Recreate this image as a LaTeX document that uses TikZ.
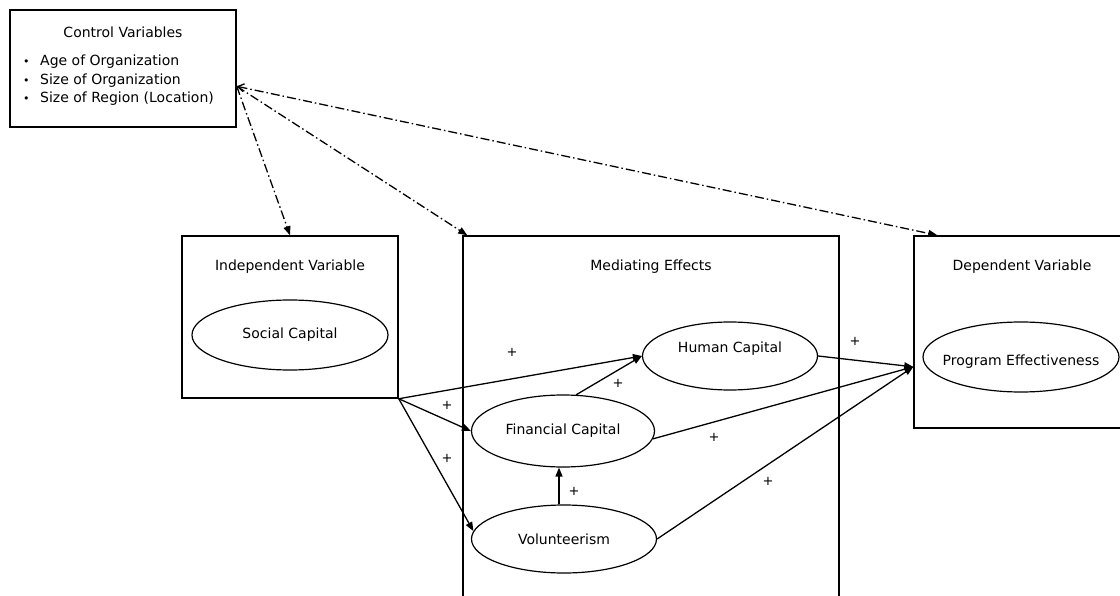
\documentclass[tikz,border=0pt]{standalone}
\usepackage{fontspec}
\setmainfont{DejaVu Sans}
\usetikzlibrary{arrows.meta,shapes.geometric,calc}

\begin{document}
\begin{tikzpicture}[x=1pt,y=-1pt,
  txt/.style={font=\fontsize{14}{18.5}\selectfont, inner sep=0pt},
  frame/.style={draw, line width=1.5pt, inner sep=0pt},
  var/.style={draw, ellipse, line width=1.2pt, inner sep=0pt, font=\fontsize{14}{17}\selectfont},
  link/.style={line width=1.3pt, -{Triangle[length=9pt,width=7pt]}},
  ctrl/.style={line width=1.3pt, dash pattern=on 9pt off 3pt on 1.5pt off 3pt, -{Triangle[length=9pt,width=7pt]}},
  sign/.style={font=\fontsize{13}{13}\selectfont, inner sep=0pt}]

\useasboundingbox (0,0) rectangle (1120,596);
\fill[white] (0,0) rectangle (1120,596);
\clip (0,0) rectangle (1120,596);

% control variables
\node[frame, minimum width=226pt, minimum height=117pt] (ctl) at (123,68.5) {};
\node[txt] (ctltitle) at (123,32) {Control Variables};
\node[txt, anchor=north west, align=left] (ctllist) at (23,55) {%
  \makebox[17pt][l]{\fontsize{11}{11}\selectfont•}Age of Organization\\
  \makebox[17pt][l]{\fontsize{11}{11}\selectfont•}Size of Organization\\
  \makebox[17pt][l]{\fontsize{11}{11}\selectfont•}Size of Region (Location)};

% frames
\node[frame, minimum width=216pt, minimum height=162pt] (indep) at (290,317) {};
\node[txt] (indeptitle) at (290,267) {Independent Variable};
\node[frame, minimum width=376pt, minimum height=400pt] (med) at (651,436) {};
\node[txt] (medtitle) at (651,267) {Mediating Effects};
\node[frame, minimum width=214pt, minimum height=192pt] (dep) at (1021,332) {};
\node[txt] (deptitle) at (1022,267) {Dependent Variable};

% variables
\node[var, minimum width=196pt, minimum height=70pt] (social) at (290,335) {Social Capital};
\node[var, minimum width=175pt, minimum height=68pt] (human) at (730,356) {};
\node[txt] (humantext) at (730,349) {Human Capital};
\node[var, minimum width=183pt, minimum height=72pt] (fin) at (563,431) {Financial Capital};
\node[var, minimum width=185pt, minimum height=68pt] (vol) at (564,539) {Volunteerism};
\node[var, minimum width=196pt, minimum height=70pt] (prog) at (1021,357) {};
\node[txt] (progtext) at (1021,362) {Program Effectiveness};

% connector ends
\coordinate (ctlout) at ($(ctl.south east)!0.35!(ctl.north east)$);
\coordinate (depin) at ($(dep.north west)!0.68!(dep.south west)$);

% control paths
\draw[ctrl] (ctlout) -- (indep.north);
\draw[ctrl] (ctlout) -- ($(med.north west)+(5,0)$);
\draw[ctrl, {Straight Barb[length=6pt,width=8pt]}-{Triangle[length=9pt,width=7pt]}] (ctlout) -- ($(dep.north west)+(24,0)$);

% causal paths
\draw[link] (indep.south east) -- (human.west);
\draw[link] (indep.south east) -- (fin.west);
\draw[link] (indep.south east) -- (vol.175);
\draw[link] (fin.70) -- (human.west);
\draw[link] ([xshift=-5pt]vol.north) -- ([xshift=-4pt]fin.south);
\draw[link] (human.east) -- (depin);
\draw[link] (fin.-5) -- (depin);
\draw[link] (vol.east) -- (depin);

% signs
\node[sign] (s1) at (512,352) {+};
\node[sign] (s2) at (447,405) {+};
\node[sign] (s3) at (618,383) {+};
\node[sign] (s4) at (447,458) {+};
\node[sign] (s5) at (574,491) {+};
\node[sign] (s6) at (855,341) {+};
\node[sign] (s7) at (714,437) {+};
\node[sign] (s8) at (768,481) {+};
\end{tikzpicture}
\end{document}
